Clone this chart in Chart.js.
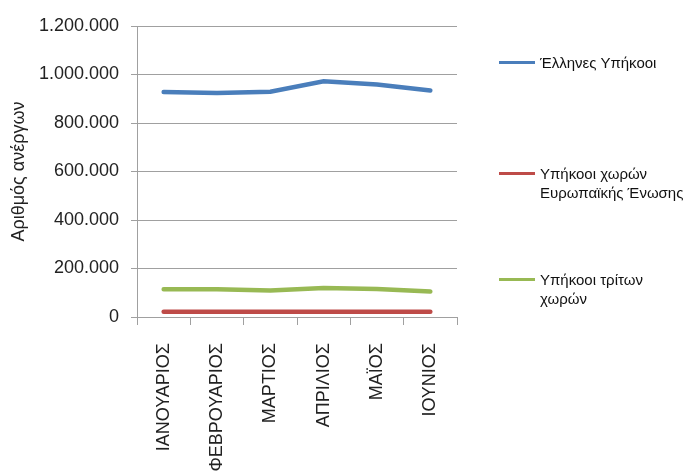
<!DOCTYPE html>
<html>
<head>
<meta charset="utf-8">
<script src="https://cdn.jsdelivr.net/npm/chart.js@4"></script>
<style>
    body { margin: 0; background: #fff; }
    #wrap { position: relative; width: 691px; height: 474px; overflow: hidden; }
    #legend { position: absolute; left: 499px; top: 0; font-family: 'Liberation Sans', sans-serif; font-size: 15px; color: #111; }
    .item { position: absolute; left: 0; white-space: nowrap; }
    .item span.line { position: absolute; left: 0; top: 8px; width: 36px; height: 3px; }
    .item div.txt { position: absolute; left: 41px; top: 0; line-height: 19px; }
</style>
</head>
<body>
<div id="wrap">
    <canvas id="myChart" width="691" height="474"></canvas>
    <div id="legend"></div>
</div>
<script>
// Months (categories)
const months = ['ΙΑΝΟΥΑΡΙΟΣ', 'ΦΕΒΡΟΥΑΡΙΟΣ', 'ΜΑΡΤΙΟΣ', 'ΑΠΡΙΛΙΟΣ', 'ΜΑΪΟΣ', 'ΙΟΥΝΙΟΣ'];

// Series values
const greeks = [928000, 924000, 929000, 972000, 959000, 934000];
const euCitizens = [22000, 22000, 22000, 22000, 22000, 22000];
const thirdCountries = [114000, 114000, 109000, 120000, 115000, 105000];

// Y tick labels
const yTickLabels = ['0', '200.000', '400.000', '600.000', '800.000', '1.000.000', '1.200.000'];

const seriesNames = ['Έλληνες Υπήκοοι', 'Υπήκοοι χωρών\nΕυρωπαϊκής Ένωσης', 'Υπήκοοι τρίτων\nχωρών'];
const seriesColors = ['#4A7EBB', '#BE4B48', '#98B954'];

const gridColor = '#a0a0a0';

new Chart('myChart', {
    type: 'line',
    data: {
        labels: months,
        datasets: [greeks, euCitizens, thirdCountries].map((vals, i) => ({
            label: seriesNames[i],
            data: vals,
            borderColor: seriesColors[i],
            backgroundColor: seriesColors[i],
            borderWidth: 4.5,
            borderCapStyle: 'round',
            tension: 0,
            pointRadius: 0
        }))
    },
    options: {
        responsive: false,
        animation: false,
        layout: { padding: { top: 26, right: 234, left: 0, bottom: 0 } },
        plugins: { legend: { display: false }, tooltip: { enabled: false } },
        scales: {
            x: {
                offset: true,
                grid: { offset: true, drawOnChartArea: false, drawTicks: true, tickLength: 8, color: gridColor },
                border: { color: gridColor },
                ticks: {
                    minRotation: 90, maxRotation: 90, autoSkip: false, padding: 18,
                    color: '#222', font: { family: 'Liberation Sans', size: 18 }
                },
                afterFit: function (scale) { scale.height = 157; }
            },
            y: {
                min: 0, max: 1200000,
                ticks: {
                    stepSize: 200000, padding: 12, color: '#222',
                    font: { family: 'Liberation Sans', size: 18 },
                    callback: function (value, index) { return yTickLabels[index]; }
                },
                grid: { color: gridColor, tickLength: 6 },
                border: { color: gridColor },
                title: {
                    display: true, text: 'Αριθμός ανέργων', color: '#222',
                    font: { family: 'Liberation Sans', size: 18 }, padding: { top: 8, bottom: 0 }
                },
                afterFit: function (scale) { scale.width = 137; }
            }
        }
    }
});

// HTML legend on the right
const legendTops = [53, 164, 270];
const legend = document.getElementById('legend');
seriesNames.forEach((name, i) => {
    const item = document.createElement('div');
    item.className = 'item';
    item.style.top = legendTops[i] + 'px';
    item.innerHTML = `<span class="line" style="background:${seriesColors[i]}"></span>` +
        `<div class="txt">${name.replace('\n', '<br>')}</div>`;
    legend.appendChild(item);
});
</script>
</body>
</html>
